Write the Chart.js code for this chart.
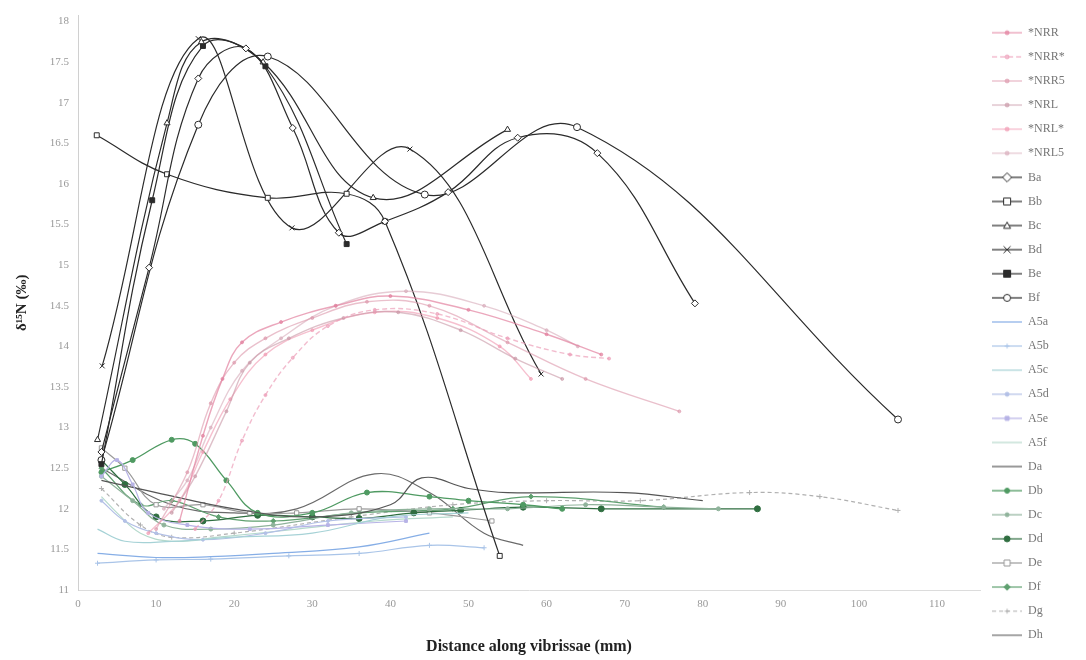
<!DOCTYPE html>
<html>
<head>
<meta charset="utf-8">
<script src="https://cdn.jsdelivr.net/npm/chart.js@4.4.1/dist/chart.umd.min.js"></script>
<style>
  html, body { margin: 0; background: #fff; }
  #wrap { width: 1086px; height: 660px; }
</style>
</head>
<body>
<div id="wrap"><canvas id="chart"></canvas></div>
<script>
// tick labels
const xTicks = [0, 10, 20, 30, 40, 50, 60, 70, 80, 90, 100, 110]
const yTicks = [11, 11.5, 12, 12.5, 13, 13.5, 14, 14.5, 15, 15.5, 16, 16.5, 17, 17.5, 18]

// series: [distance (mm), d15N]
const NRR = [[13, 11.85], [16, 12.9], [18.5, 13.6], [21, 14.05], [26, 14.3], [33, 14.5], [40, 14.62], [50, 14.45], [60, 14.15], [67, 13.9]]
const NRRs = [[15, 11.75], [18, 12.1], [21, 12.84], [24, 13.4], [27.5, 13.86], [32, 14.25], [38, 14.45], [46, 14.4], [55, 14.1], [63, 13.9], [68, 13.85]]
const NRR5 = [[10, 11.75], [14, 12.45], [17, 13.3], [20, 13.8], [24, 14.1], [30, 14.35], [37, 14.55], [45, 14.5], [55, 14.05], [65, 13.6], [77, 13.2]]
const NRL = [[12, 11.95], [15, 12.4], [19, 13.2], [22, 13.8], [27, 14.1], [34, 14.35], [41, 14.42], [49, 14.2], [56, 13.85], [62, 13.6]]
const NRLs = [[9, 11.7], [13, 12.1], [16, 12.7], [19.5, 13.35], [24, 13.9], [30, 14.2], [38, 14.42], [46, 14.35], [54, 14.0], [58, 13.6]]
const NRL5 = [[11, 12.0], [14, 12.35], [17, 13.0], [21, 13.7], [26, 14.1], [33, 14.5], [42, 14.68], [52, 14.5], [60, 14.2], [64, 14.0]]

const Ba = [[3, 12.7], [9.1, 14.97], [15.4, 17.3], [21.5, 17.67], [27.5, 16.69], [33.4, 15.4], [39.3, 15.54], [47.4, 15.9], [56.3, 16.57], [66.5, 16.38], [79, 14.53]]
const Bb = [[2.4, 16.6], [11.4, 16.12], [24.3, 15.83], [34.4, 15.88], [39.3, 15.54], [54, 11.42]]
const Bc = [[2.5, 12.85], [11.4, 16.75], [15.8, 17.75], [23.7, 17.5], [37.8, 15.83], [55, 16.67]]
const Bd = [[3.1, 13.76], [15.4, 17.79], [27.4, 15.46], [42.5, 16.43], [59.3, 13.66]]
const Be = [[3, 12.55], [9.5, 15.8], [16, 17.7], [24, 17.45], [34.4, 15.26]]
const Bf = [[3, 12.6], [15.4, 16.73], [24.3, 17.57], [44.4, 15.87], [63.9, 16.7], [105, 13.1]]

const A5a = [[2.5, 11.45], [10, 11.4], [17, 11.41], [25, 11.45], [36, 11.53], [45, 11.7]]
const A5b = [[2.5, 11.33], [10, 11.37], [17, 11.38], [27, 11.42], [36, 11.45], [45, 11.55], [52, 11.52]]
const A5c = [[2.5, 11.75], [6, 11.6], [12, 11.6], [20, 11.65], [30, 11.7], [40, 11.9], [50, 11.95]]
const A5d = [[3, 12.1], [6, 11.85], [10, 11.7], [16, 11.62], [24, 11.7], [32, 11.85], [42, 11.9]]
const A5e = [[3, 12.4], [5, 12.6], [7, 12.3], [9, 11.95], [14, 11.8], [22, 11.75], [32, 11.8], [42, 11.85]]
const A5f = [[3, 12.15], [5, 11.95], [8, 11.7], [12, 11.6], [18, 11.65], [28, 11.75], [38, 11.85], [48, 11.9]]

const Da = [[3, 12.35], [10, 12.2], [20, 12.0], [30, 11.9], [40, 12.05], [44, 12.38], [50, 12.25], [55, 12.2], [70, 12.2], [80, 12.1]]
const Db = [[3, 12.45], [7, 12.6], [12, 12.85], [15, 12.8], [19, 12.35], [23, 11.95], [30, 11.95], [37, 12.2], [45, 12.15], [50, 12.1], [57, 12.05], [62, 12.0]]
const Dc = [[3, 12.4], [7, 12.1], [11, 11.8], [17, 11.75], [25, 11.8], [35, 11.95], [45, 12.0], [55, 12.0], [65, 12.05], [75, 12.02], [82, 12.0]]
const Dd = [[3, 12.6], [6, 12.3], [10, 11.9], [16, 11.85], [23, 11.92], [30, 11.9], [36, 11.88], [43, 11.95], [49, 11.98], [57, 12.02], [67, 12.0], [87, 12.0]]
const De = [[3, 12.75], [6, 12.5], [10, 12.05], [16, 12.05], [22, 11.95], [28, 11.95], [36, 12.0], [45, 11.95], [53, 11.85]]
const Df = [[3, 12.5], [8, 12.05], [12, 12.1], [18, 11.9], [25, 11.85], [36, 11.95], [48, 12.0], [58, 12.15], [75, 12.02]]
const Dg = [[3, 12.25], [8, 11.8], [12, 11.65], [20, 11.7], [35, 11.9], [48, 12.05], [60, 12.1], [72, 12.1], [86, 12.2], [95, 12.15], [105, 11.98]]
const Dh = [[3, 12.5], [12, 12.05], [20, 11.95], [28, 12.0], [38, 12.43], [45, 12.2], [52, 11.7], [57, 11.55]]

const FONT = 'Liberation Serif'
const INK = '#2b2b2b'

function series(label, pts, opts) {
  return Object.assign({
    label,
    data: pts.map(p => ({ x: p[0], y: p[1] })),
    showLine: true,
    tension: 0.4,
    borderWidth: 1.2,
    pointRadius: 0,
    pointBorderWidth: 1,
  }, opts)
}

function pink(c, extra) {
  return Object.assign({ borderColor: c, pointRadius: 1.5, pointBackgroundColor: c, pointBorderColor: c, borderWidth: 1.4 }, extra)
}
function black(style, filled) {
  return { borderColor: INK, pointStyle: style, pointRadius: 3.5, pointBackgroundColor: filled ? INK : '#fff', pointBorderColor: INK }
}
function plain(c, style, r, filled, extra) {
  return Object.assign({
    borderColor: c, pointStyle: style || 'circle', pointRadius: r || 0,
    pointBackgroundColor: filled ? c : '#fff', pointBorderColor: c,
  }, extra)
}

const datasets = [
  series('*NRR', NRR, pink('rgba(226,130,160,0.7)')),
  series('*NRR*', NRRs, pink('rgba(236,160,185,0.7)', { borderDash: [5, 3] })),
  series('*NRR5', NRR5, pink('rgba(220,150,170,0.6)')),
  series('*NRL', NRL, pink('rgba(200,150,165,0.6)')),
  series('*NRL*', NRLs, pink('rgba(240,150,175,0.6)')),
  series('*NRL5', NRL5, pink('rgba(215,170,185,0.6)')),
  series('Ba', Ba, black('rectRot')),
  series('Bb', Bb, black('rect')),
  series('Bc', Bc, black('triangle')),
  series('Bd', Bd, black('crossRot')),
  series('Be', Be, black('rect', true)),
  series('Bf', Bf, black('circle')),
  series('A5a', A5a, plain('#86aee6')),
  series('A5b', A5b, plain('#a9c4e8', 'cross', 2.5)),
  series('A5c', A5c, plain('#a6d2d6')),
  series('A5d', A5d, plain('#b3c0e6', 'circle', 1.5, true)),
  series('A5e', A5e, plain('#b7b3e6', 'rect', 2, true)),
  series('A5f', A5f, plain('#b5d9cc')),
  series('Da', Da, plain('#555555')),
  series('Db', Db, plain('#4f9a62', 'circle', 2.5, true, { borderWidth: 1.3 })),
  series('Dc', Dc, plain('#8fb39b', 'circle', 2, true)),
  series('Dd', Dd, plain('#2f6e40', 'circle', 3, true)),
  series('De', De, plain('#9a9a9a', 'rect', 3)),
  series('Df', Df, plain('#5fa070', 'rectRot', 2.5, true)),
  series('Dg', Dg, plain('#b0b0b0', 'cross', 2.5, false, { borderDash: [4, 3] })),
  series('Dh', Dh, plain('#6a6a6a')),
]

function drawMarker(g, style, x, y, r, fill, stroke) {
  g.fillStyle = fill
  g.strokeStyle = stroke
  g.lineWidth = 1
  g.beginPath()
  if (style === 'rect') {
    g.rect(x - r, y - r, 2 * r, 2 * r)
  } else if (style === 'rectRot') {
    g.moveTo(x, y - r * 1.3); g.lineTo(x + r * 1.3, y); g.lineTo(x, y + r * 1.3); g.lineTo(x - r * 1.3, y); g.closePath()
  } else if (style === 'triangle') {
    g.moveTo(x, y - r); g.lineTo(x + r, y + r * 0.8); g.lineTo(x - r, y + r * 0.8); g.closePath()
  } else if (style === 'crossRot') {
    g.moveTo(x - r, y - r); g.lineTo(x + r, y + r); g.moveTo(x + r, y - r); g.lineTo(x - r, y + r)
    g.stroke()
    return
  } else if (style === 'cross') {
    g.moveTo(x - r, y); g.lineTo(x + r, y); g.moveTo(x, y - r); g.lineTo(x, y + r)
    g.stroke()
    return
  } else {
    g.arc(x, y, r, 0, Math.PI * 2)
  }
  g.fill()
  g.stroke()
}

function legendIcon(ds) {
  const c = document.createElement('canvas')
  c.width = 30
  c.height = 12
  const g = c.getContext('2d')
  g.strokeStyle = ds.borderColor
  g.lineWidth = ds.borderWidth
  g.setLineDash(ds.borderDash || [])
  g.beginPath()
  g.moveTo(0, 6)
  g.lineTo(30, 6)
  g.stroke()
  g.setLineDash([])
  if (ds.pointRadius > 0) {
    drawMarker(g, ds.pointStyle || 'circle', 15, 6, Math.max(ds.pointRadius, 2), ds.pointBackgroundColor, ds.pointBorderColor)
  }
  return c
}

const icons = datasets.map(legendIcon)

// keep the legend column a fixed width so the plot ends where the original did
const legendWidth = {
  id: 'legendWidth',
  beforeLayout(chart) {
    const lg = chart.legend
    if (lg && !lg._patched) {
      const fit = lg.fit
      lg.fit = function () { fit.call(this); this.width = 106 }
      lg._patched = true
    }
  },
}

new Chart(document.getElementById('chart'), {
  type: 'scatter',
  data: { datasets },
  plugins: [legendWidth],
  options: {
    responsive: true,
    maintainAspectRatio: false,
    devicePixelRatio: 1,
    animation: false,
    layout: { padding: { top: 8, left: 0, right: 0, bottom: 0 } },
    plugins: {
      tooltip: { enabled: false },
      legend: {
        position: 'right',
        align: 'center',
        labels: {
          usePointStyle: true,
          pointStyleWidth: 30,
          boxHeight: 12,
          padding: 12.1,
          color: '#777',
          font: { family: FONT, size: 12 },
          generateLabels: chart => chart.data.datasets.map((ds, i) => ({
            text: ds.label,
            pointStyle: icons[i],
            fontColor: '#777',
            datasetIndex: i,
            hidden: false,
            lineWidth: 0,
          })),
        },
      },
    },
    scales: {
      x: {
        type: 'linear',
        min: 0,
        max: 115.5,
        afterBuildTicks: s => { s.ticks = xTicks.map(v => ({ value: v })) },
        afterFit: s => { s.height = 70 },
        grid: { display: false, drawTicks: false },
        border: { color: '#dcdcdc' },
        ticks: { color: '#999', padding: 8, autoSkip: false, maxRotation: 0, font: { family: FONT, size: 11 } },
        title: {
          display: true,
          text: 'Distance along vibrissae (mm)',
          color: '#222',
          padding: { top: 14 },
          font: { family: FONT, size: 16, weight: 'bold' },
        },
      },
      y: {
        min: 11,
        max: 18.074,
        afterBuildTicks: s => { s.ticks = yTicks.map(v => ({ value: v })) },
        afterFit: s => { s.width = 78 },
        grid: { display: false, drawTicks: false },
        border: { color: '#d0d0d0' },
        ticks: { color: '#999', padding: 9, font: { family: FONT, size: 11 }, callback: v => String(v) },
        title: {
          display: true,
          text: 'δ¹⁵N (‰)',
          color: '#222',
          padding: { top: 13, bottom: 0 },
          font: { family: FONT, size: 15, weight: 'bold' },
        },
      },
    },
  },
})
</script>
</body>
</html>
